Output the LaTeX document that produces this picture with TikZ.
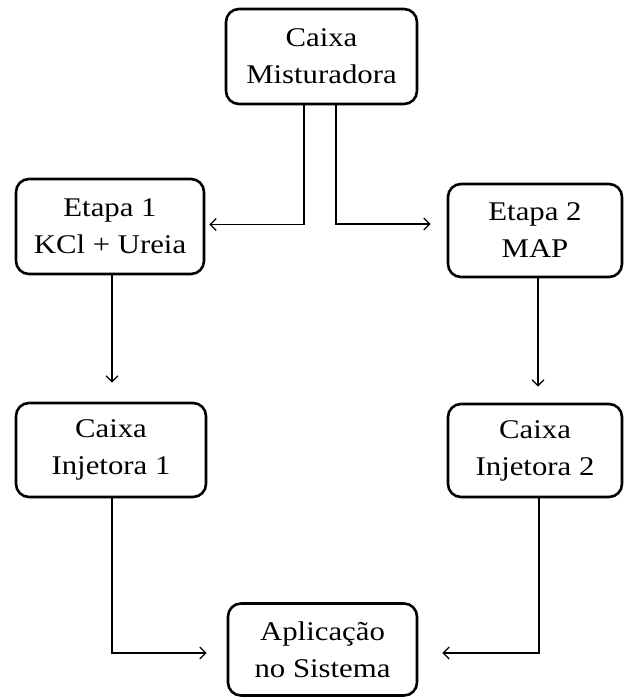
\documentclass[tikz,border=0pt]{standalone}
\usepackage{fontspec}
\setmainfont{Liberation Serif}[FakeStretch=1.14]
\usetikzlibrary{arrows.meta,calc}
\begin{document}
\begin{tikzpicture}[x=1pt,y=-1pt,
  box/.style={draw,line width=2.6pt,rounded corners=13pt,align=center,
    font=\fontsize{27}{37}\selectfont,inner sep=0pt},
  arr/.style={line width=1.3pt,-{Straight Barb[length=6pt,width=12pt,line width=1.3pt]}}]
\useasboundingbox (0,0) rectangle (625,698);
\node[box,minimum width=191pt,minimum height=95pt] (mix) at (321.5,56.5) {Caixa\\Misturadora};
\node[box,minimum width=188pt,minimum height=95pt] (e1) at (110,226.5) {Etapa 1\\KCl + Ureia};
\node[box,minimum width=174pt,minimum height=93pt] (e2) at (535,230.5) {Etapa 2\\MAP};
\node[box,minimum width=190pt,minimum height=94pt] (i1) at (111,450) {Caixa\\Injetora 1};
\node[box,minimum width=174pt,minimum height=93pt] (i2) at (535,450.5) {Caixa\\Injetora 2};
\node[box,minimum width=189pt,minimum height=92pt] (app) at (322.5,649.5) {Aplica\c{c}\~ao\\no Sistema};
\draw[arr,shorten >=4pt] ($(mix.south)+(-17.5,0)$) |- ($(e1.east)+(0,-2)$);
\draw[arr,shorten >=16pt] ($(mix.south)+(14.5,0)$) |- ($(e2.west)+(0,-6.5)$);
\draw[arr,shorten >=19pt] ($(e1.south)+(2,0)$) -- ($(i1.north)+(1,0)$);
\draw[arr,shorten >=16pt] ($(e2.south)+(3,0)$) -- ($(i2.north)+(3,0)$);
\draw[arr,shorten >=20pt] ($(i1.south)+(1,0)$) |- ($(app.west)+(0,3.5)$);
\draw[arr,shorten >=24pt] ($(i2.south)+(4,0)$) |- ($(app.east)+(0,3.5)$);
\end{tikzpicture}
\end{document}
